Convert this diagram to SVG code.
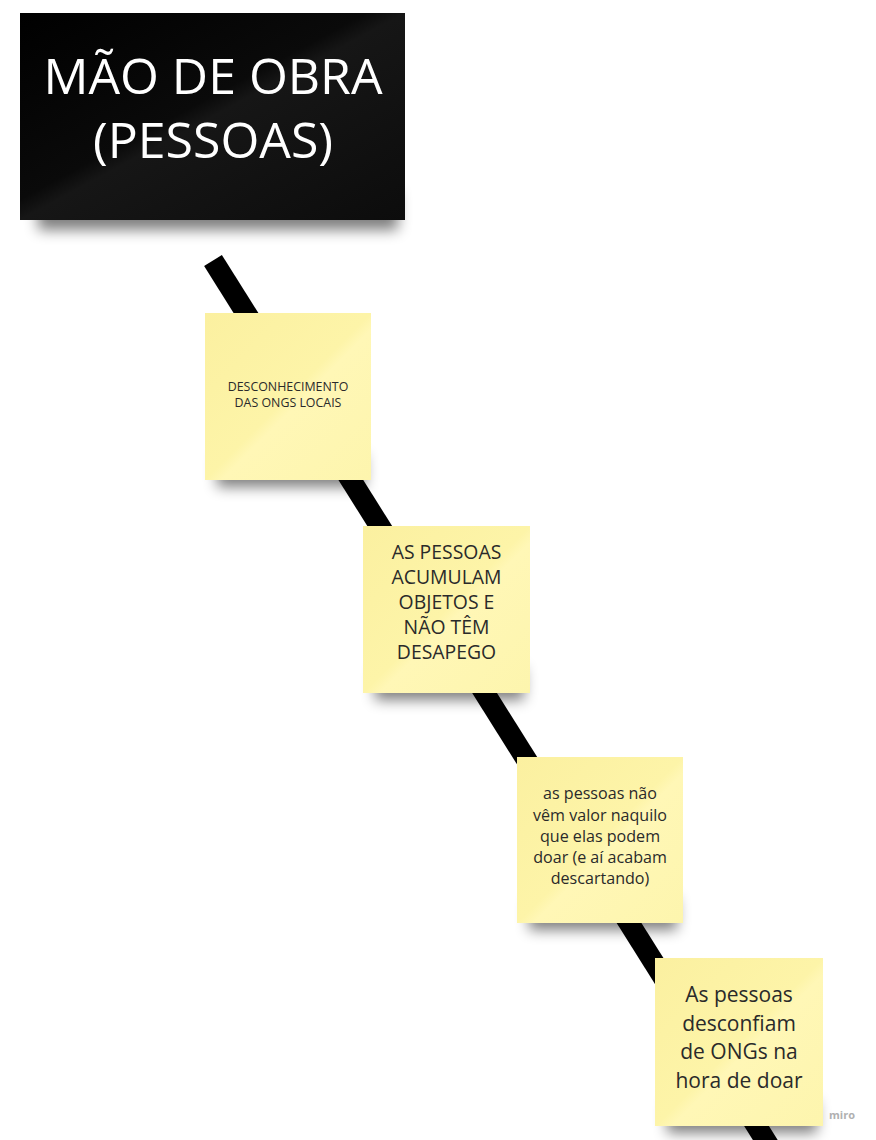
<svg xmlns="http://www.w3.org/2000/svg" width="876" height="1140" viewBox="0 0 876 1140">
<defs>
<style>
.note-text{font-family:"Open Sans","Liberation Sans",sans-serif;fill:#2a2a2a;text-anchor:middle}
.title{font-family:"Open Sans","Liberation Sans",sans-serif;fill:#ffffff;text-anchor:middle;font-size:50px}
.note{fill:url(#noteGrad)}
.shadow{fill:#000;opacity:0.5;filter:url(#blur)}
</style>
<filter id="blur" x="-20%" y="-80%" width="140%" height="260%"><feGaussianBlur stdDeviation="7"/></filter>
<linearGradient id="noteGrad" x1="0" y1="0" x2="1" y2="1">
<stop offset="0" stop-color="#fbf0a0"/>
<stop offset="0.5" stop-color="#fdf4a8"/>
<stop offset="0.55" stop-color="#fff7b6"/>
<stop offset="1" stop-color="#fdf5ad"/>
</linearGradient>
<linearGradient id="boxGrad" x1="0" y1="0" x2="1" y2="1">
<stop offset="0" stop-color="#000000"/>
<stop offset="0.45" stop-color="#0a0a0a"/>
<stop offset="0.5" stop-color="#161616"/>
<stop offset="1" stop-color="#0c0c0c"/>
</linearGradient>
</defs>
<rect width="876" height="1140" fill="#ffffff"/>
<g id="connectors">
<line x1="213" y1="260.5" x2="771.6" y2="1150" stroke="#000" stroke-width="21" stroke-linecap="butt"/>
</g>
<g id="title">
<rect class="shadow" x="38" y="192" width="360" height="38"/>
<rect x="20" y="13" width="385" height="207" fill="url(#boxGrad)"/>
<text class="title" x="213" y="94">MÃO DE OBRA</text>
<text class="title" x="213" y="158">(PESSOAS)</text>
</g>
<g id="note1">
<rect class="shadow" x="217" y="455" width="148" height="32"/>
<rect class="note" x="205" y="313" width="166" height="167"/>
<text class="note-text" font-size="12.4" x="288" y="391">DESCONHECIMENTO</text>
<text class="note-text" font-size="12.4" x="288" y="407">DAS ONGS LOCAIS</text>
</g>
<g id="note2">
<rect class="shadow" x="375" y="668" width="149" height="32"/>
<rect class="note" x="363" y="526" width="167" height="167"/>
<text class="note-text" font-size="19.4" x="446.5" y="559">AS PESSOAS</text>
<text class="note-text" font-size="19.4" x="446.5" y="584">ACUMULAM</text>
<text class="note-text" font-size="19.4" x="446.5" y="609">OBJETOS E</text>
<text class="note-text" font-size="19.4" x="446.5" y="634">NÃO TÊM</text>
<text class="note-text" font-size="19.4" x="446.5" y="659">DESAPEGO</text>
</g>
<g id="note3">
<rect class="shadow" x="529" y="898" width="148" height="32"/>
<rect class="note" x="517" y="757" width="166" height="166"/>
<text class="note-text" font-size="16.1" x="600" y="799">as pessoas não</text>
<text class="note-text" font-size="16.1" x="600" y="820.5">vêm valor naquilo</text>
<text class="note-text" font-size="16.1" x="600" y="842">que elas podem</text>
<text class="note-text" font-size="16.1" x="600" y="863">doar (e aí acabam</text>
<text class="note-text" font-size="16.1" x="600" y="884">descartando)</text>
</g>
<g id="note4">
<rect class="shadow" x="667" y="1101" width="150" height="32"/>
<rect class="note" x="655" y="958" width="168" height="168"/>
<text class="note-text" font-size="21" x="739" y="1002">As pessoas</text>
<text class="note-text" font-size="21" x="739" y="1030.5">desconfiam</text>
<text class="note-text" font-size="21" x="739" y="1059">de ONGs na</text>
<text class="note-text" font-size="21" x="739" y="1088">hora de doar</text>
</g>
<text x="842" y="1119" font-family="Open Sans, Liberation Sans, sans-serif" font-size="11" font-weight="bold" fill="#b0b0b0" text-anchor="middle">miro</text>
</svg>
